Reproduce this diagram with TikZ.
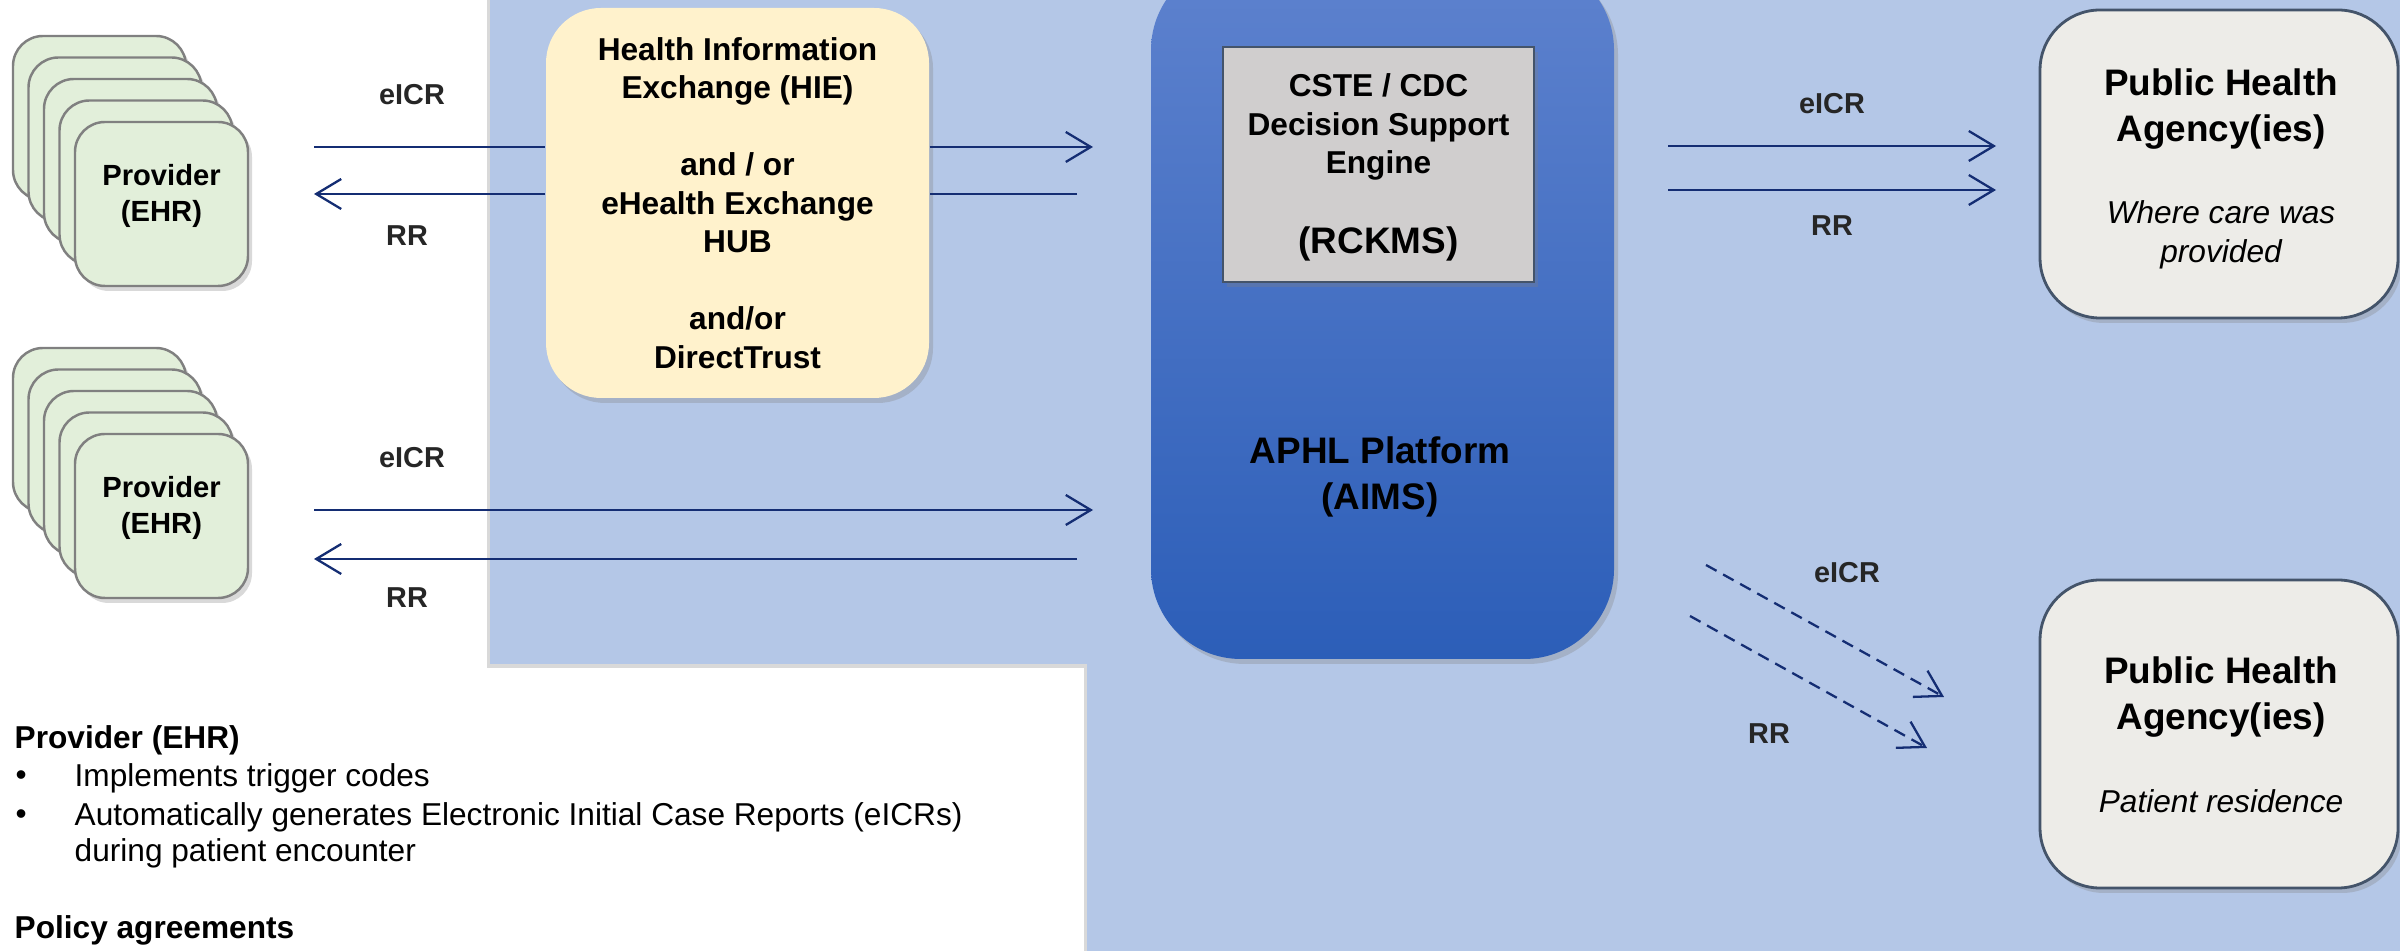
\documentclass[tikz,border=0pt]{standalone}
\usepackage{fontspec}
\setmainfont{Liberation Sans}
\usetikzlibrary{arrows.meta,shadows,positioning}

\definecolor{bgblue}{HTML}{B4C7E7}
\definecolor{provgreen}{HTML}{E2EFDA}
\definecolor{hieyellow}{HTML}{FFF2CC}
\definecolor{enginegray}{HTML}{D0CECE}
\definecolor{agencygray}{HTML}{EDECE8}
\definecolor{navy}{RGB}{20,45,115}
\definecolor{edgeblue}{HTML}{44546A}
\definecolor{aphltop}{RGB}{94,130,206}
\definecolor{aphlbottom}{RGB}{44,94,184}

\tikzstyle{softshadow} = [drop shadow={shadow xshift=0.04cm, shadow yshift=-0.05cm, opacity=0.3}]
\tikzstyle{provbox} = [rectangle, rounded corners=0.3cm, minimum width=1.73cm, minimum height=1.64cm, draw=black!50, line width=0.7pt, fill=provgreen, softshadow]
\tikzstyle{provtext} = [align=center, font=\fontsize{8.3}{10.2}\selectfont\bfseries]
\tikzstyle{hub} = [rectangle, rounded corners=0.55cm, minimum width=3.83cm, minimum height=3.90cm, fill=hieyellow, align=center, font=\fontsize{9}{10.95}\selectfont\bfseries, softshadow]
\tikzstyle{platform} = [rectangle, rounded corners=0.9cm, minimum width=4.63cm, minimum height=6.99cm, top color=aphltop, bottom color=aphlbottom, softshadow]
\tikzstyle{engine} = [rectangle, minimum width=3.11cm, minimum height=2.35cm, fill=enginegray, draw=edgeblue, line width=0.5pt, softshadow]
\tikzstyle{agency} = [rectangle, rounded corners=0.6cm, minimum width=3.58cm, minimum height=3.08cm, fill=agencygray, draw=edgeblue, line width=0.8pt, softshadow]
\tikzstyle{bigbold} = [align=center, font=\fontsize{10.5}{12.9}\selectfont\bfseries]
\tikzstyle{midbold} = [align=center, font=\fontsize{9}{11}\selectfont\bfseries]
\tikzstyle{note} = [align=center, font=\fontsize{9}{11.1}\selectfont\itshape]
\tikzstyle{flowlabel} = [font=\fontsize{8.2}{10}\selectfont\bfseries, text=black!85]
\tikzstyle{bodytext} = [anchor=west, inner sep=0pt, font=\fontsize{9}{11}\selectfont]
\tikzstyle{heading} = [bodytext, font=\fontsize{9}{11}\selectfont\bfseries]
\tikzstyle{link} = [navy, line width=0.65pt]
\tikzstyle{arrow} = [link, -{Straight Barb[length=2.5mm,width=3mm]}]
\tikzstyle{backarrow} = [link, {Straight Barb[length=2.5mm,width=3mm]}-]
\tikzstyle{dasharrow} = [arrow, dash pattern=on 1.2mm off 0.75mm]

\begin{document}
\begin{tikzpicture}
	\useasboundingbox (0,0) rectangle (24,-9.51);
	\clip (0,0) rectangle (24,-9.51);

	\fill[bgblue, drop shadow={shadow xshift=-0.03cm, shadow yshift=-0.04cm, opacity=0.3}] (4.90,0.3) -- (24.3,0.3) -- (24.3,-9.8) -- (10.87,-9.8) -- (10.87,-6.64) -- (4.90,-6.64) -- cycle;

	\coordinate (p1) at (1.615,-2.04);
	\coordinate (p2) at (1.615,-5.16);
	\foreach \i in {4,3,2,1} {
		\node[provbox] (p1b\i) at ([shift={(-0.155*\i,0.215*\i)}]p1) {};
		\node[provbox] (p2b\i) at ([shift={(-0.155*\i,0.215*\i)}]p2) {};
	}
	\node[provbox] (prov1) at (p1) {};
	\node[provbox] (prov2) at (p2) {};
	\node[provtext] (prov1txt) at ([yshift=0.08cm]prov1.center) {Provider\\(EHR)};
	\node[provtext] (prov2txt) at ([yshift=0.08cm]prov2.center) {Provider\\(EHR)};

	\node[hub] (hie) at (7.375,-2.03) {Health Information\\Exchange (HIE)\\[10.95pt]and / or\\eHealth Exchange\\HUB\\[10.95pt]and/or\\DirectTrust};

	\node[platform] (aphl) at (13.825,-3.095) {};
	\node[engine] (cste) at (13.785,-1.645) {};
	\node[midbold] (cstetxt) at (13.785,-1.27) {CSTE / CDC\\Decision Support\\Engine};
	\node[bigbold] (rckms) at (13.785,-2.44) {(RCKMS)};
	\node[bigbold] (aphltxt) at (13.80,-4.77) {APHL Platform\\(AIMS)};

	\node[agency] (pha1) at (22.19,-1.64) {};
	\node[bigbold] (pha1txt) at (22.21,-1.09) {Public Health\\Agency(ies)};
	\node[note] (pha1note) at (22.21,-2.35) {Where care was\\provided};
	\node[agency] (pha2) at (22.19,-7.34) {};
	\node[bigbold] (pha2txt) at (22.21,-6.97) {Public Health\\Agency(ies)};
	\node[note] (pha2note) at (22.21,-8.01) {Patient residence};

	\coordinate (e1s) at (3.14,-1.47);
	\coordinate (e1e) at (10.93,-1.47);
	\coordinate (r1s) at (10.77,-1.94);
	\coordinate (r1e) at (3.14,-1.94);
	\coordinate (e2s) at (3.14,-5.10);
	\coordinate (e2e) at (10.93,-5.10);
	\coordinate (r2s) at (10.77,-5.59);
	\coordinate (r2e) at (3.14,-5.59);
	\coordinate (e3s) at (16.68,-1.46);
	\coordinate (e3e) at (19.96,-1.46);
	\coordinate (r3s) at (16.68,-1.90);
	\coordinate (r3e) at (19.96,-1.90);
	\coordinate (e4s) at (17.06,-5.65);
	\coordinate (e4e) at (19.44,-6.97);
	\coordinate (r4s) at (16.90,-6.16);
	\coordinate (r4e) at (19.27,-7.48);

	\draw [link](e1s) -- (e1s -| hie.west);
	\draw [arrow](e1s -| hie.east) -- (e1e);
	\draw [link](r1s) -- (r1s -| hie.east);
	\draw [arrow](r1s -| hie.west) -- (r1e);
	\draw [arrow](e2s) -- (e2e);
	\draw [arrow](r2s) -- (r2e);
	\draw [arrow](e3s) -- (e3e);
	\draw [arrow](r3s) -- (r3e);
	\draw [dasharrow](e4s) -- (e4e);
	\draw [dasharrow](r4s) -- (r4e);

	\node[flowlabel] (l1) at (4.12,-0.95) {eICR};
	\node[flowlabel] (l2) at (4.07,-2.36) {RR};
	\node[flowlabel] (l3) at (4.12,-4.58) {eICR};
	\node[flowlabel] (l4) at (4.07,-5.98) {RR};
	\node[flowlabel] (l5) at (18.32,-1.04) {eICR};
	\node[flowlabel] (l6) at (18.32,-2.26) {RR};
	\node[flowlabel] (l7) at (18.47,-5.73) {eICR};
	\node[flowlabel] (l8) at (17.69,-7.34) {RR};

	\node[heading] (provhead) at (0.14,-7.40) {Provider (EHR)};
	\node[bodytext] (dot1) at (0.15,-7.78) {\textbullet};
	\node[bodytext] (item1) at (0.74,-7.78) {Implements trigger codes};
	\node[bodytext] (dot2) at (0.15,-8.17) {\textbullet};
	\node[bodytext] (item2) at (0.74,-8.17) {Automatically generates Electronic Initial Case Reports (eICRs)};
	\node[bodytext] (item3) at (0.74,-8.53) {during patient encounter};
	\node[heading] (policyhead) at (0.14,-9.30) {Policy agreements};

\end{tikzpicture}
\end{document}
